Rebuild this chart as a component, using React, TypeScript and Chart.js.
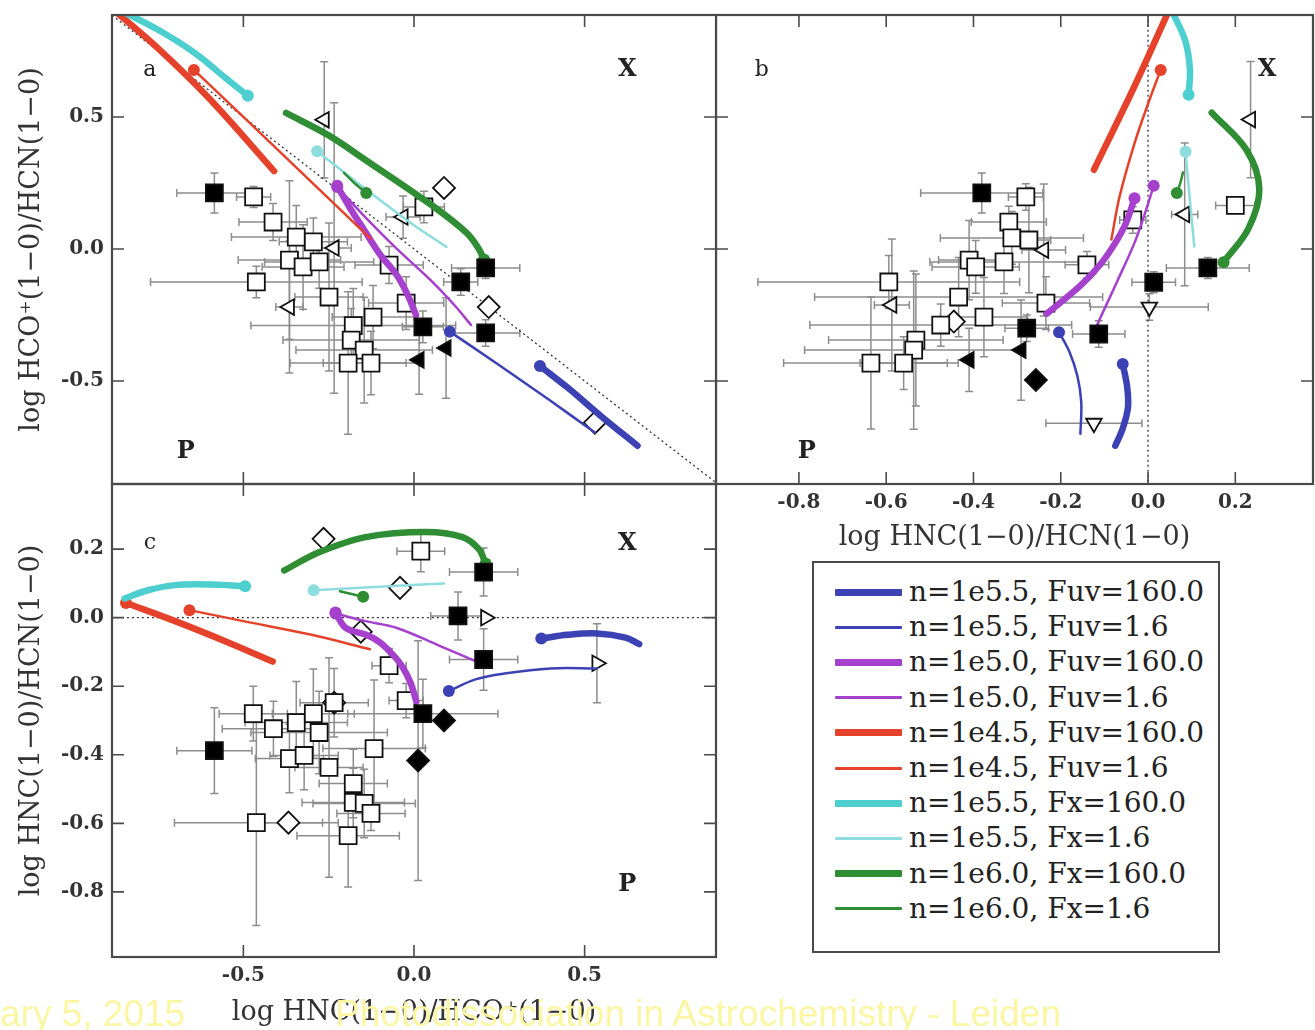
import React, { useEffect, useRef } from "react";
import { Chart, registerables } from "chart.js";

Chart.register(...registerables);

// ---------------- tick values ----------------
const ticksHncHco = [-0.5, 0.0, 0.5]; // x of panels a and c
const ticksHcoHcn = [-0.5, 0.0, 0.5]; // y of panels a and b
const ticksHncHcn = [-0.8, -0.6, -0.4, -0.2, 0.0, 0.2]; // x of b, y of c

// ---------------- legend ----------------
const modelLabels = [
  "n=1e5.5, Fuv=160.0",
  "n=1e5.5, Fuv=1.6",
  "n=1e5.0, Fuv=160.0",
  "n=1e5.0, Fuv=1.6",
  "n=1e4.5, Fuv=160.0",
  "n=1e4.5, Fuv=1.6",
  "n=1e5.5, Fx=160.0",
  "n=1e5.5, Fx=1.6",
  "n=1e6.0, Fx=160.0",
  "n=1e6.0, Fx=1.6",
];
const modelColors = [
  "#3c41b3", "#3c41b3",
  "#a541cc", "#a541cc",
  "#e4422b", "#e4422b",
  "#4ecfcf", "#8ddcde",
  "#2f8d33", "#2f8d33",
];
const modelWidths = [6.5, 2.5, 6.5, 2.5, 6.5, 2.5, 6.5, 2.5, 6.5, 2.5];

// ---------------- panel a : x = log HNC/HCO+, y = log HCO+/HCN ----------------
// observations: [x, y, xErr, yErr]
const aOpenSquares = [
  [-0.47, 0.197, 0.05, 0.04],
  [-0.413, 0.102, 0.1, 0.07],
  [-0.345, 0.045, 0.19, 0.12],
  [-0.295, 0.027, 0.1, 0.09],
  [-0.365, -0.042, 0.15, 0.3],
  [-0.325, -0.068, 0.12, 0.16],
  [-0.278, -0.049, 0.16, 0.1],
  [-0.462, -0.125, 0.31, 0.06],
  [-0.249, -0.182, 0.1, 0.28],
  [-0.073, -0.061, 0.1, 0.07],
  [-0.023, -0.205, 0.11, 0.1],
  [-0.12, -0.258, 0.12, 0.12],
  [-0.178, -0.29, 0.3, 0.14],
  [-0.184, -0.345, 0.2, 0.12],
  [-0.146, -0.383, 0.2, 0.2],
  [-0.193, -0.432, 0.17, 0.27],
  [-0.126, -0.432, 0.14, 0.12],
  [0.029, 0.159, 0.06, 0.06],
];
const aFilledSquares = [
  [-0.585, 0.212, 0.11, 0.076],
  [0.137, -0.125, 0.05, 0.05],
  [0.21, -0.072, 0.1, 0.04],
  [0.026, -0.295, 0.06, 0.06],
  [0.21, -0.318, 0.1, 0.05],
];
const aOpenLeftTri = [
  [-0.263, 0.489, 0.0, 0.22],
  [-0.234, 0.004, 0.05, 0.55],
  [-0.365, -0.22, 0.04, 0.25],
  [-0.032, 0.121, 0.05, 0.08],
];
const aFilledLeftTri = [
  [0.015, -0.42, 0.0, 0.13],
  [0.094, -0.375, 0.0, 0.19],
];
const aOpenDiamonds = [
  [0.088, 0.231, 0, 0],
  [0.219, -0.22, 0, 0],
  [0.53, -0.658, 0, 0],
];
// model tracks: [x, y]; the first point carries the start dot
const aBlueThick = [[0.369, -0.443], [0.45, -0.525], [0.55, -0.635], [0.655, -0.745]];
const aBlueThin = [[0.105, -0.313], [0.25, -0.44], [0.4, -0.575], [0.53, -0.695]];
const aPurpleThick = [[-0.225, 0.239], [-0.19, 0.16], [-0.145, 0.07], [-0.1, -0.02], [-0.05, -0.1], [-0.02, -0.17], [0.006, -0.25]];
const aPurpleThin = [[-0.225, 0.235], [-0.15, 0.13], [-0.05, 0.0], [0.05, -0.12], [0.12, -0.215], [0.167, -0.288]];
const aRedThick = [[-0.88, 0.905], [-0.75, 0.76], [-0.6, 0.57], [-0.41, 0.295]];
const aRedThin = [[-0.645, 0.678], [-0.5, 0.5], [-0.33, 0.29], [-0.128, 0.04]];
const aCyanThick = [[-0.487, 0.58], [-0.55, 0.645], [-0.64, 0.74], [-0.75, 0.83], [-0.87, 0.91]];
const aCyanThin = [[-0.284, 0.37], [-0.15, 0.235], [0.0, 0.09], [0.095, 0.008]];
const aGreenThick = [[0.205, -0.04], [0.19, 0.0], [0.155, 0.06], [0.06, 0.158], [-0.14, 0.335], [-0.25, 0.43], [-0.375, 0.515]];
const aGreenThin = [[-0.14, 0.212], [-0.175, 0.25], [-0.205, 0.288]];
const aDots = [true, true, true, true, false, true, true, true, true, true];
const aRefLine = [[-0.885, 0.885], [0.885, -0.885]];

// ---------------- panel b : x = log HNC/HCN, y = log HCO+/HCN ----------------
const bOpenSquares = [
  [-0.28, 0.197, 0.04, 0.05],
  [-0.319, 0.102, 0.086, 0.06],
  [-0.312, 0.042, 0.164, 0.1],
  [-0.273, 0.034, 0.05, 0.2],
  [-0.41, -0.042, 0.07, 0.15],
  [-0.395, -0.068, 0.1, 0.1],
  [-0.33, -0.049, 0.17, 0.12],
  [-0.14, -0.06, 0.05, 0.05],
  [-0.594, -0.125, 0.3, 0.1],
  [-0.434, -0.182, 0.33, 0.15],
  [-0.376, -0.258, 0.1, 0.15],
  [-0.234, -0.205, 0.1, 0.1],
  [-0.475, -0.288, 0.3, 0.08],
  [-0.532, -0.345, 0.2, 0.25],
  [-0.537, -0.383, 0.25, 0.3],
  [-0.635, -0.432, 0.2, 0.25],
  [-0.56, -0.432, 0.1, 0.1],
  [0.2, 0.165, 0.045, 0.03],
  [-0.035, 0.11, 0.03, 0.05],
];
const bFilledSquares = [
  [-0.381, 0.212, 0.14, 0.076],
  [0.013, -0.126, 0.05, 0.04],
  [0.137, -0.072, 0.095, 0.04],
  [-0.278, -0.3, 0.05, 0.05],
  [-0.113, -0.322, 0.06, 0.05],
];
const bOpenLeftTri = [
  [0.235, 0.49, 0.0, 0.22],
  [-0.587, -0.212, 0.04, 0.25],
  [-0.239, -0.004, 0.05, 0.25],
  [0.084, 0.131, 0.03, 0.27],
];
const bOpenDownTri = [
  [0.003, -0.22, 0.135, 0.05],
  [-0.124, -0.66, 0.11, 0.0],
];
const bFilledLeftTri = [
  [-0.41, -0.42, 0, 0.12],
  [-0.291, -0.383, 0, 0.19],
];
const bFilledDiamonds = [[-0.257, -0.496, 0, 0]];
const bOpenDiamonds = [[-0.445, -0.275, 0, 0]];
const bBlueThick = [[-0.058, -0.436], [-0.048, -0.52], [-0.046, -0.6], [-0.058, -0.68], [-0.075, -0.745]];
const bBlueThin = [[-0.204, -0.315], [-0.18, -0.39], [-0.162, -0.48], [-0.153, -0.58], [-0.155, -0.7]];
const bPurpleThick = [[-0.031, 0.192], [-0.05, 0.1], [-0.075, 0.023], [-0.11, -0.06], [-0.155, -0.139], [-0.232, -0.245]];
const bPurpleThin = [[0.013, 0.239], [-0.008, 0.13], [-0.031, 0.023], [-0.07, -0.12], [-0.118, -0.292]];
const bRedThick = [[0.047, 0.9], [-0.03, 0.62], [-0.124, 0.3]];
const bRedThin = [[0.029, 0.678], [0.0, 0.55], [-0.031, 0.4], [-0.065, 0.2], [-0.084, 0.036]];
const bCyanThick = [[0.093, 0.584], [0.096, 0.68], [0.085, 0.79], [0.055, 0.9]];
const bCyanThin = [[0.086, 0.368], [0.095, 0.2], [0.106, 0.009]];
const bGreenThick = [[0.173, -0.05], [0.23, 0.077], [0.255, 0.226], [0.226, 0.374], [0.146, 0.516]];
const bGreenThin = [[0.066, 0.212], [0.074, 0.25], [0.08, 0.29]];
const bDots = [true, true, true, true, false, true, true, true, true, true];
const bRefLine = [[0, -0.9], [0, 0.9]];

// ---------------- panel c : x = log HNC/HCO+, y = log HNC/HCN ----------------
const cOpenSquares = [
  [0.02, 0.194, 0.07, 0.06],
  [-0.073, -0.14, 0.05, 0.05],
  [-0.023, -0.242, 0.05, 0.05],
  [-0.471, -0.28, 0.1, 0.08],
  [-0.412, -0.324, 0.15, 0.08],
  [-0.345, -0.306, 0.15, 0.12],
  [-0.295, -0.28, 0.12, 0.13],
  [-0.234, -0.248, 0.1, 0.1],
  [-0.278, -0.335, 0.2, 0.12],
  [-0.365, -0.411, 0.1, 0.1],
  [-0.322, -0.402, 0.1, 0.1],
  [-0.249, -0.437, 0.1, 0.32],
  [-0.117, -0.382, 0.15, 0.2],
  [-0.178, -0.484, 0.1, 0.1],
  [-0.178, -0.539, 0.15, 0.1],
  [-0.146, -0.542, 0.15, 0.1],
  [-0.126, -0.571, 0.1, 0.05],
  [-0.462, -0.598, 0.24, 0.3],
  [-0.193, -0.636, 0.15, 0.15],
];
const cFilledSquares = [
  [-0.585, -0.388, 0.11, 0.125],
  [0.204, 0.133, 0.1, 0.07],
  [0.129, 0.005, 0.08, 0.07],
  [0.204, -0.122, 0.1, 0.09],
  [0.026, -0.28, 0.22, 0.1],
];
const cOpenDiamonds = [
  [-0.265, 0.23, 0, 0],
  [-0.041, 0.087, 0, 0],
  [-0.156, -0.041, 0, 0],
  [-0.368, -0.598, 0.1, 0],
  [-0.234, -0.248, 0, 0],
];
const cFilledDiamonds = [
  [0.088, -0.3, 0, 0],
  [0.012, -0.417, 0, 0.35],
];
const cOpenRightTri = [
  [0.21, 0.0, 0, 0],
  [0.536, -0.133, 0, 0.115],
];
const cBlueThick = [[0.373, -0.061], [0.45, -0.05], [0.536, -0.046], [0.62, -0.058], [0.66, -0.077]];
const cBlueThin = [[0.102, -0.214], [0.18, -0.18], [0.265, -0.163], [0.4, -0.148], [0.536, -0.148]];
const cPurpleThick = [[-0.23, 0.015], [-0.2, -0.03], [-0.14, -0.05], [-0.1, -0.072], [-0.06, -0.11], [-0.034, -0.143], [-0.01, -0.19], [0.007, -0.245]];
const cPurpleThin = [[-0.23, 0.012], [-0.142, -0.01], [-0.05, -0.03], [0.075, -0.082], [0.183, -0.128]];
const cRedThick = [[-0.844, 0.043], [-0.7, -0.01], [-0.55, -0.07], [-0.414, -0.128]];
const cRedThin = [[-0.658, 0.022], [-0.5, -0.01], [-0.3, -0.05], [-0.129, -0.092]];
const cCyanThick = [[-0.495, 0.092], [-0.6, 0.097], [-0.7, 0.095], [-0.78, 0.08], [-0.848, 0.056]];
const cCyanThin = [[-0.294, 0.08], [-0.1, 0.09], [0.088, 0.1]];
const cGreenThick = [[0.21, 0.158], [0.19, 0.2], [0.142, 0.235], [0.034, 0.25], [-0.142, 0.235], [-0.28, 0.19], [-0.38, 0.138]];
const cGreenThin = [[-0.149, 0.061], [-0.217, 0.077]];
const cDots = [true, true, true, true, true, true, true, true, true, true];
const cRefLine = [[-0.9, 0], [0.9, 0]];

// ---------------- styles ----------------
const SERIF = "'DejaVu Serif', 'Liberation Serif', serif";
const markerStyles: Record<string, any> = {
  openSquare: { style: "rect", r: 12, fill: "#ffffff", rot: 0, top: false },
  filledSquare: { style: "rect", r: 12, fill: "#000000", rot: 0, top: true },
  openLeft: { style: "triangle", r: 9, fill: "#ffffff", rot: -90, top: false },
  filledLeft: { style: "triangle", r: 9, fill: "#000000", rot: -90, top: true },
  openDown: { style: "triangle", r: 9, fill: "#ffffff", rot: 180, top: false },
  openRight: { style: "triangle", r: 9, fill: "#ffffff", rot: 90, top: false },
  openDiamond: { style: "rectRot", r: 11, fill: "#ffffff", rot: 0, top: false },
  filledDiamond: { style: "rectRot", r: 11, fill: "#000000", rot: 0, top: true },
};

const fmt = (v: number) => (Math.abs(v) < 1e-9 ? 0 : v).toFixed(1);

// error bars drawn from each dataset's points through the chart scales
const errorBarPlugin = {
  id: "errbars",
  beforeDatasetsDraw(chart: any) {
    const { ctx, chartArea, scales } = chart;
    const xs = scales.x, ys = scales.y;
    ctx.save();
    ctx.beginPath();
    ctx.rect(chartArea.left, chartArea.top, chartArea.right - chartArea.left, chartArea.bottom - chartArea.top);
    ctx.clip();
    ctx.strokeStyle = "#8d8d8d";
    ctx.lineWidth = 1.5;
    chart.data.datasets.forEach((ds: any) => {
      if (!ds.errorBars) return;
      ds.data.forEach((p: any) => {
        const px = xs.getPixelForValue(p.x);
        const py = ys.getPixelForValue(p.y);
        ctx.beginPath();
        if (p.ex > 0) {
          const l = xs.getPixelForValue(p.x - p.ex), r = xs.getPixelForValue(p.x + p.ex);
          ctx.moveTo(l, py); ctx.lineTo(r, py);
          ctx.moveTo(l, py - 4); ctx.lineTo(l, py + 4);
          ctx.moveTo(r, py - 4); ctx.lineTo(r, py + 4);
        }
        if (p.ey > 0) {
          const t = ys.getPixelForValue(p.y + p.ey), b = ys.getPixelForValue(p.y - p.ey);
          ctx.moveTo(px, t); ctx.lineTo(px, b);
          ctx.moveTo(px - 4, t); ctx.lineTo(px + 4, t);
          ctx.moveTo(px - 4, b); ctx.lineTo(px + 4, b);
        }
        ctx.stroke();
      });
    });
    ctx.restore();
  },
};

// frame, inner tick marks, panel letters
const framePlugin = {
  id: "frame",
  afterDatasetsDraw(chart: any, _args: any, opts: any) {
    const { ctx, chartArea, scales } = chart;
    const { left, top, right, bottom } = chartArea;
    const xs = scales.x, ys = scales.y;
    ctx.save();
    ctx.strokeStyle = "#4a4a4a";
    ctx.lineWidth = 1.6;
    ctx.beginPath();
    (opts.xTicks || []).forEach((v: number) => {
      const px = xs.getPixelForValue(v);
      ctx.moveTo(px, bottom); ctx.lineTo(px, bottom - 12);
      ctx.moveTo(px, top); ctx.lineTo(px, top + 12);
    });
    (opts.yTicks || []).forEach((v: number) => {
      const py = ys.getPixelForValue(v);
      ctx.moveTo(left, py); ctx.lineTo(left + 12, py);
      ctx.moveTo(right, py); ctx.lineTo(right - 12, py);
    });
    ctx.stroke();
    ctx.lineWidth = 2.2;
    ctx.strokeRect(left, top, right - left, bottom - top);
    ctx.fillStyle = "#222";
    ctx.textAlign = "center";
    ctx.textBaseline = "middle";
    (opts.labels || []).forEach((l: any) => {
      ctx.font = l.bold ? `bold 24px ${SERIF}` : `22px ${SERIF}`;
      ctx.fillText(l.text, xs.getPixelForValue(l.x), ys.getPixelForValue(l.y));
    });
    ctx.restore();
  },
};

type Spec = {
  box: { left: number; top: number; width: number; height: number };
  padding: { left: number; right: number; top: number; bottom: number };
  xRange: number[]; yRange: number[];
  xTicks: number[]; yTicks: number[];
  showX: boolean; showY: boolean;
  xTitle?: string; yTitle?: string;
  xAxisHeight?: number; yAxisWidth?: number; xTitlePad?: number;
  markers: [string, number[][]][];
  curves: number[][][]; dots: boolean[];
  refLine: number[][];
  labels: any[];
};

function buildConfig(p: Spec): any {
  const datasets: any[] = [];
  datasets.push({
    type: "line",
    data: p.refLine.map(([x, y]) => ({ x, y })),
    borderColor: "#333",
    borderWidth: 1.3,
    borderDash: [2, 3],
    pointRadius: 0,
    tension: 0,
    order: 60,
  });
  p.markers.forEach(([kind, arr]) => {
    const st = markerStyles[kind];
    datasets.push({
      type: "scatter",
      data: arr.map(([x, y, ex, ey]) => ({ x, y, ex, ey })),
      errorBars: true,
      pointStyle: st.style,
      pointRadius: st.r,
      pointRotation: st.rot,
      pointBackgroundColor: st.fill,
      pointBorderColor: "#111",
      pointBorderWidth: 1.8,
      order: st.top ? 2 : 40,
    });
  });
  p.curves.forEach((pts, i) => {
    datasets.push({
      type: "line",
      data: pts.map(([x, y]) => ({ x, y })),
      borderColor: modelColors[i],
      borderWidth: modelWidths[i],
      tension: 0.35,
      borderCapStyle: "round",
      pointRadius: (ctx: any) => (p.dots[i] && ctx.dataIndex === 0 ? 6 : 0),
      pointBackgroundColor: modelColors[i],
      pointBorderColor: modelColors[i],
      pointBorderWidth: 0,
      order: 30 - i,
    });
  });
  const tickFont = { family: SERIF, size: 20, weight: "bold" as const };
  const titleFont = { family: SERIF, size: 27 };
  const zeroPad = (s: any) => {
    s.paddingTop = 0; s.paddingBottom = 0; s.paddingLeft = 0; s.paddingRight = 0;
  };
  return {
    type: "scatter",
    data: { datasets },
    plugins: [errorBarPlugin, framePlugin],
    options: {
      responsive: false,
      animation: false,
      events: [],
      layout: { padding: p.padding, autoPadding: false },
      plugins: {
        legend: { display: false },
        tooltip: { enabled: false },
        frame: { xTicks: p.xTicks, yTicks: p.yTicks, labels: p.labels },
      },
      scales: {
        x: {
          type: "linear",
          position: "bottom",
          min: p.xRange[0],
          max: p.xRange[1],
          display: p.showX,
          grid: { display: false, drawTicks: false },
          border: { display: false },
          afterBuildTicks: (s: any) => { s.ticks = p.xTicks.map((v) => ({ value: v })); },
          afterFit: (s: any) => { if (p.xAxisHeight !== undefined) s.height = p.xAxisHeight; zeroPad(s); },
          ticks: { font: tickFont, color: "#333", padding: 7, maxRotation: 0, autoSkip: false, callback: (v: any) => fmt(Number(v)) },
          title: { display: !!p.xTitle, text: p.xTitle, font: titleFont, color: "#333", padding: { top: 0, bottom: p.xTitlePad ?? 0 } },
        },
        y: {
          type: "linear",
          position: "left",
          min: p.yRange[0],
          max: p.yRange[1],
          display: p.showY,
          grid: { display: false, drawTicks: false },
          border: { display: false },
          afterBuildTicks: (s: any) => { s.ticks = p.yTicks.map((v) => ({ value: v })); },
          afterFit: (s: any) => { if (p.yAxisWidth !== undefined) s.width = p.yAxisWidth; zeroPad(s); },
          ticks: { font: tickFont, color: "#333", padding: 8, autoSkip: false, callback: (v: any) => fmt(Number(v)) },
          title: { display: !!p.yTitle, text: p.yTitle, font: titleFont, color: "#333", padding: { top: 16, bottom: 0 } },
        },
      },
    },
  };
}

const specA: Spec = {
  box: { left: 0, top: 0, width: 720, height: 490 },
  padding: { left: 0, right: 4, top: 15, bottom: 6 },
  xRange: [-0.885, 0.885], yRange: [-0.89, 0.886],
  xTicks: ticksHncHco, yTicks: ticksHcoHcn,
  showX: false, showY: true,
  yTitle: "log HCO\u207A(1\u22120)/HCN(1\u22120)", yAxisWidth: 112,
  markers: [
    ["openSquare", aOpenSquares], ["openLeft", aOpenLeftTri], ["openDiamond", aOpenDiamonds],
    ["filledSquare", aFilledSquares], ["filledLeft", aFilledLeftTri],
  ],
  curves: [aBlueThick, aBlueThin, aPurpleThick, aPurpleThin, aRedThick, aRedThin, aCyanThick, aCyanThin, aGreenThick, aGreenThin],
  dots: aDots,
  refLine: aRefLine,
  labels: [
    { text: "a", x: -0.774, y: 0.678 },
    { text: "X", x: 0.625, y: 0.678, bold: true },
    { text: "P", x: -0.669, y: -0.769, bold: true },
  ],
};

const specB: Spec = {
  box: { left: 716, top: 0, width: 599, height: 560 },
  padding: { left: 0, right: 2, top: 15, bottom: 0 },
  xRange: [-0.99, 0.378], yRange: [-0.89, 0.886],
  xTicks: ticksHncHcn, yTicks: ticksHcoHcn,
  showX: true, showY: false,
  xTitle: "log HNC(1\u22120)/HCN(1\u22120)", xAxisHeight: 76, xTitlePad: 6,
  markers: [
    ["openSquare", bOpenSquares], ["openLeft", bOpenLeftTri], ["openDown", bOpenDownTri], ["openDiamond", bOpenDiamonds],
    ["filledSquare", bFilledSquares], ["filledLeft", bFilledLeftTri], ["filledDiamond", bFilledDiamonds],
  ],
  curves: [bBlueThick, bBlueThin, bPurpleThick, bPurpleThin, bRedThick, bRedThin, bCyanThick, bCyanThin, bGreenThick, bGreenThin],
  dots: bDots,
  refLine: bRefLine,
  labels: [
    { text: "b", x: -0.885, y: 0.678 },
    { text: "X", x: 0.273, y: 0.678, bold: true },
    { text: "P", x: -0.782, y: -0.769, bold: true },
  ],
};

const specC: Spec = {
  box: { left: 0, top: 480, width: 720, height: 550 },
  padding: { left: 0, right: 4, top: 4, bottom: 0 },
  xRange: [-0.885, 0.885], yRange: [-0.99, 0.39],
  xTicks: ticksHncHco, yTicks: ticksHncHcn,
  showX: true, showY: true,
  xTitle: "log HNC(1\u22120)/HCO\u207A(1\u22120)", xAxisHeight: 73, xTitlePad: 1,
  yTitle: "log HNC(1\u22120)/HCN(1\u22120)", yAxisWidth: 112,
  markers: [
    ["openSquare", cOpenSquares], ["openDiamond", cOpenDiamonds], ["openRight", cOpenRightTri],
    ["filledSquare", cFilledSquares], ["filledDiamond", cFilledDiamonds],
  ],
  curves: [cBlueThick, cBlueThin, cPurpleThick, cPurpleThin, cRedThick, cRedThin, cCyanThick, cCyanThin, cGreenThick, cGreenThin],
  dots: cDots,
  refLine: cRefLine,
  labels: [
    { text: "c", x: -0.774, y: 0.216 },
    { text: "X", x: 0.625, y: 0.216, bold: true },
    { text: "P", x: 0.625, y: -0.78, bold: true },
  ],
};

function Panel({ spec }: { spec: Spec }) {
  const ref = useRef<HTMLCanvasElement>(null);
  useEffect(() => {
    const chart = new Chart(ref.current as HTMLCanvasElement, buildConfig(spec));
    return () => chart.destroy();
  }, [spec]);
  const b = spec.box;
  return (
    <canvas
      ref={ref}
      width={b.width}
      height={b.height}
      style={{ position: "absolute", left: b.left, top: b.top, width: b.width, height: b.height }}
    />
  );
}

function Legend() {
  return (
    <div
      style={{
        position: "absolute", left: 812, top: 561, width: 408, height: 392,
        border: "2px solid #4a4a4a", boxSizing: "border-box", background: "#fff",
      }}
    >
      {modelLabels.map((lab, i) => (
        <div
          key={lab}
          style={{
            position: "absolute", left: 0, top: 12 + i * 35.2, height: 34,
            display: "flex", alignItems: "center",
          }}
        >
          <div
            style={{
              marginLeft: 21, width: 67, height: i % 2 === 0 ? 7 : 3,
              background: modelColors[i], borderRadius: 1,
            }}
          />
          <span
            style={{
              marginLeft: 7, fontFamily: SERIF, fontSize: 28, color: "#222",
              whiteSpace: "nowrap", lineHeight: "34px",
            }}
          >
            {lab}
          </span>
        </div>
      ))}
    </div>
  );
}

const footerStyle: React.CSSProperties = {
  position: "absolute", top: 995, fontFamily: "'Liberation Sans', Arial, sans-serif",
  fontSize: 37, lineHeight: "37px", color: "#fbf6a4", whiteSpace: "nowrap",
};

export default function App() {
  return (
    <div style={{ position: "absolute", left: 0, top: 0, width: 1315, height: 1030, overflow: "hidden", background: "#fff" }}>
      <Panel spec={specA} />
      <Panel spec={specC} />
      <Panel spec={specB} />
      <Legend />
      <div style={{ ...footerStyle, left: 0 }}>ary 5, 2015</div>
      <div style={{ ...footerStyle, left: 335 }}>Photodissociation in Astrochemistry - Leiden</div>
    </div>
  );
}
